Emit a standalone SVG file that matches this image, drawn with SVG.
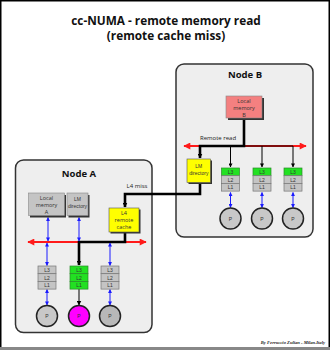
<svg xmlns="http://www.w3.org/2000/svg" width="330" height="350" viewBox="0 0 330 350">
<style>
.title{font-family:"Open Sans","Liberation Sans",sans-serif;font-weight:bold;font-size:11.8px;fill:#111;text-anchor:middle}
.nodet{font-family:"Open Sans","Liberation Sans",sans-serif;font-weight:bold;font-size:9.5px;fill:#111;text-anchor:middle}
.lbl{font-family:"Open Sans","Liberation Sans",sans-serif;font-size:5.5px;fill:#333;text-anchor:middle}
.tiny{font-family:"Liberation Sans",sans-serif;font-size:5px;fill:#333;text-anchor:middle}
.conl{font-family:"Open Sans","Liberation Sans",sans-serif;font-size:6px;fill:#222;text-anchor:middle}
.panel{fill:#eeeeee;stroke:#333;stroke-width:1.5}
.shadow{fill:#333}
.gray{fill:#c4c4c4;stroke:#888;stroke-width:0.6}
.pink{fill:#f48080;stroke:#888;stroke-width:0.6}
.yellow{fill:#ffff00;stroke:#555;stroke-width:0.6}
.cg{fill:#c4c4c4;stroke:#777;stroke-width:0.7}
.cgr{fill:#22e022;stroke:#2a8a2a;stroke-width:0.7}
.proc{fill:#c8c8c8;stroke:#222;stroke-width:1.5}
.bus{stroke:#ff1a1a;stroke-width:2;fill:none}
.blue{stroke:#1a1aff;stroke-width:1;fill:none}
.thick{stroke:#000;stroke-width:2.6;fill:none}
.thin{stroke:#000;stroke-width:1;fill:none}
</style>
<defs>
<marker id="ar" viewBox="0 0 10 10" refX="9" refY="5" markerWidth="9" markerHeight="7" markerUnits="userSpaceOnUse" orient="auto-start-reverse"><path d="M0,0 L10,5 L0,10 z" fill="#ff1a1a"/></marker>
<marker id="ab" viewBox="0 0 10 10" refX="9" refY="5" markerWidth="4" markerHeight="4" markerUnits="userSpaceOnUse" orient="auto-start-reverse"><path d="M0,0 L10,5 L0,10 z" fill="#1a1aff"/></marker>
<marker id="ak" viewBox="0 0 10 10" refX="9" refY="5" markerWidth="5" markerHeight="5" markerUnits="userSpaceOnUse" orient="auto"><path d="M0,0 L10,5 L0,10 z" fill="#000"/></marker>
<marker id="akt" viewBox="0 0 10 10" refX="9" refY="5" markerWidth="4" markerHeight="4" markerUnits="userSpaceOnUse" orient="auto"><path d="M0,0 L10,5 L0,10 z" fill="#000"/></marker>
</defs>
<rect x="0" y="0" width="330" height="350" fill="#fff"/>
<rect x="0.75" y="0.75" width="328.5" height="347" fill="none" stroke="#000" stroke-width="1.5"/>
<line x1="0" y1="348.5" x2="330" y2="348.5" stroke="#888" stroke-width="3"/>
<text class="title" x="166" y="25">cc-NUMA - remote memory read</text>
<text class="title" x="166" y="40">(remote cache miss)</text>

<g id="nodeB-panel"><rect class="panel" x="176" y="64" width="137" height="173" rx="8"/><text class="nodet" x="245" y="78">Node B</text></g>
<g id="nodeA-panel"><rect class="panel" x="15.5" y="160" width="136.5" height="172.5" rx="8"/><text class="nodet" x="79" y="177">Node A</text></g>

<g id="connectors">
<line class="bus" x1="184" y1="146" x2="306" y2="146" marker-start="url(#ar)" marker-end="url(#ar)"/>
<line class="bus" x1="28" y1="242" x2="146" y2="242" marker-start="url(#ar)" marker-end="url(#ar)"/>
<text class="conl" x="218" y="140">Remote read</text>
<text class="conl" x="137" y="188">L4 miss</text>
<polyline class="thick" points="244,119 244,146 200,146 200,158" marker-end="url(#ak)"/>
<line class="thin" x1="244" y1="146" x2="293" y2="146"/>
<line class="thin" x1="230.5" y1="146" x2="230.5" y2="167" marker-end="url(#akt)"/>
<line class="thin" x1="262" y1="146" x2="262" y2="167" marker-end="url(#akt)"/>
<line class="thin" x1="293" y1="146" x2="293" y2="167" marker-end="url(#akt)"/>
<polyline class="thick" points="200,183 200,194 125,194 125,207" marker-end="url(#ak)"/>
<polyline class="thick" points="125,232 125,242 79,242 79,265" marker-end="url(#ak)"/>
<line class="thin" x1="79" y1="289" x2="79" y2="305" stroke-width="1.5" marker-end="url(#ak)"/>
<line class="blue" x1="48" y1="217.5" x2="48" y2="241" marker-start="url(#ab)" marker-end="url(#ab)"/>
<line class="blue" x1="79" y1="217.5" x2="79" y2="241" marker-start="url(#ab)" marker-end="url(#ab)"/>
<line class="blue" x1="47" y1="243" x2="47" y2="265.5" marker-start="url(#ab)" marker-end="url(#ab)"/>
<line class="blue" x1="110" y1="243" x2="110" y2="265.5" marker-start="url(#ab)" marker-end="url(#ab)"/>
<line class="blue" x1="47" y1="289.5" x2="47" y2="305" marker-start="url(#ab)" marker-end="url(#ab)"/>
<line class="blue" x1="110" y1="289.5" x2="110" y2="305" marker-start="url(#ab)" marker-end="url(#ab)"/>
<line class="blue" x1="230.5" y1="192.5" x2="230.5" y2="207.5" marker-start="url(#ab)" marker-end="url(#ab)"/>
<line class="blue" x1="262" y1="192.5" x2="262" y2="207.5" marker-start="url(#ab)" marker-end="url(#ab)"/>
<line class="blue" x1="293" y1="192.5" x2="293" y2="207.5" marker-start="url(#ab)" marker-end="url(#ab)"/>
</g>

<g id="memB"><rect class="shadow" x="228" y="98" width="36" height="22"/><rect class="pink" x="226" y="96" width="36" height="22"/>
<text class="lbl" x="244" y="103">Local</text><text class="lbl" x="244" y="110">memory</text><text class="lbl" x="244" y="116.5">B</text></g>
<g id="lmdirB"><rect class="shadow" x="188.5" y="160.5" width="23.5" height="23.5"/><rect class="yellow" x="187" y="159" width="23.5" height="23.5"/>
<text class="tiny" x="198.8" y="168">LM</text><text class="tiny" x="198.8" y="175">directory</text></g>

<g id="memA"><rect class="shadow" x="30" y="195" width="36" height="22.5"/><rect class="gray" x="28.5" y="193" width="36" height="22.5"/>
<text class="lbl" x="46.5" y="200">Local</text><text class="lbl" x="46.5" y="207">memory</text><text class="lbl" x="46.5" y="214">A</text></g>
<g id="lmdirA"><rect class="shadow" x="68.5" y="195" width="21" height="22.5"/><rect class="gray" x="67" y="193" width="21" height="22.5"/>
<text class="tiny" x="77.5" y="201">LM</text><text class="tiny" x="77.5" y="208">directory</text></g>
<g id="l4A"><rect class="shadow" x="110.5" y="209.5" width="30" height="24"/><rect class="yellow" x="109" y="208" width="30" height="24"/>
<text class="lbl" x="124" y="215">L4</text><text class="lbl" x="124" y="222">remote</text><text class="lbl" x="124" y="229">cache</text></g>

<g id="cacheA1"><rect class="cg" x="38" y="266" width="18" height="7.7"/><rect class="cg" x="38" y="273.7" width="18" height="7.7"/><rect class="cg" x="38" y="281.4" width="18" height="7.7"/>
<text class="tiny" x="47" y="271.8">L3</text><text class="tiny" x="47" y="279.5">L2</text><text class="tiny" x="47" y="287.2">L1</text></g>
<g id="cacheA2"><rect class="cgr" x="70" y="266" width="18" height="7.7"/><rect class="cgr" x="70" y="273.7" width="18" height="7.7"/><rect class="cgr" x="70" y="281.4" width="18" height="7.7"/>
<text class="tiny" x="79" y="271.8">L3</text><text class="tiny" x="79" y="279.5">L2</text><text class="tiny" x="79" y="287.2">L1</text></g>
<g id="cacheA3"><rect class="cg" x="101" y="266" width="18" height="7.7"/><rect class="cg" x="101" y="273.7" width="18" height="7.7"/><rect class="cg" x="101" y="281.4" width="18" height="7.7"/>
<text class="tiny" x="110" y="271.8">L3</text><text class="tiny" x="110" y="279.5">L2</text><text class="tiny" x="110" y="287.2">L1</text></g>

<g id="cacheB1"><rect class="cgr" x="221.5" y="168" width="18" height="7.7"/><rect class="cg" x="221.5" y="175.7" width="18" height="7.7"/><rect class="cg" x="221.5" y="183.4" width="18" height="7.7"/>
<text class="tiny" x="230.5" y="173.8">L3</text><text class="tiny" x="230.5" y="181.5">L2</text><text class="tiny" x="230.5" y="189.2">L1</text></g>
<g id="cacheB2"><rect class="cgr" x="253" y="168" width="18" height="7.7"/><rect class="cg" x="253" y="175.7" width="18" height="7.7"/><rect class="cg" x="253" y="183.4" width="18" height="7.7"/>
<text class="tiny" x="262" y="173.8">L3</text><text class="tiny" x="262" y="181.5">L2</text><text class="tiny" x="262" y="189.2">L1</text></g>
<g id="cacheB3"><rect class="cgr" x="284" y="168" width="18" height="7.7"/><rect class="cg" x="284" y="175.7" width="18" height="7.7"/><rect class="cg" x="284" y="183.4" width="18" height="7.7"/>
<text class="tiny" x="293" y="173.8">L3</text><text class="tiny" x="293" y="181.5">L2</text><text class="tiny" x="293" y="189.2">L1</text></g>

<g id="pA1"><circle class="proc" cx="47" cy="316" r="10.5"/><text class="tiny" x="47" y="318">P</text></g>
<g id="pA2"><circle class="proc" cx="79" cy="316" r="10.5" style="fill:#ff00ff"/><text class="tiny" x="79" y="318">P</text></g>
<g id="pA3"><circle class="proc" cx="110" cy="316" r="10.5" style="fill:#b8b8b8"/><text class="tiny" x="110" y="318">P</text></g>
<g id="pB1"><circle class="proc" cx="230.5" cy="218.5" r="10.5"/><text class="tiny" x="230.5" y="220.5">P</text></g>
<g id="pB2"><circle class="proc" cx="262" cy="218.5" r="10.5"/><text class="tiny" x="262" y="220.5">P</text></g>
<g id="pB3"><circle class="proc" cx="293" cy="218.5" r="10.5"/><text class="tiny" x="293" y="220.5">P</text></g>

<text x="325" y="344" font-family="Liberation Serif,serif" font-style="italic" font-weight="bold" font-size="4.6" text-anchor="end" fill="#222">By Ferruccio Zulian - Milan.Italy</text>
</svg>
